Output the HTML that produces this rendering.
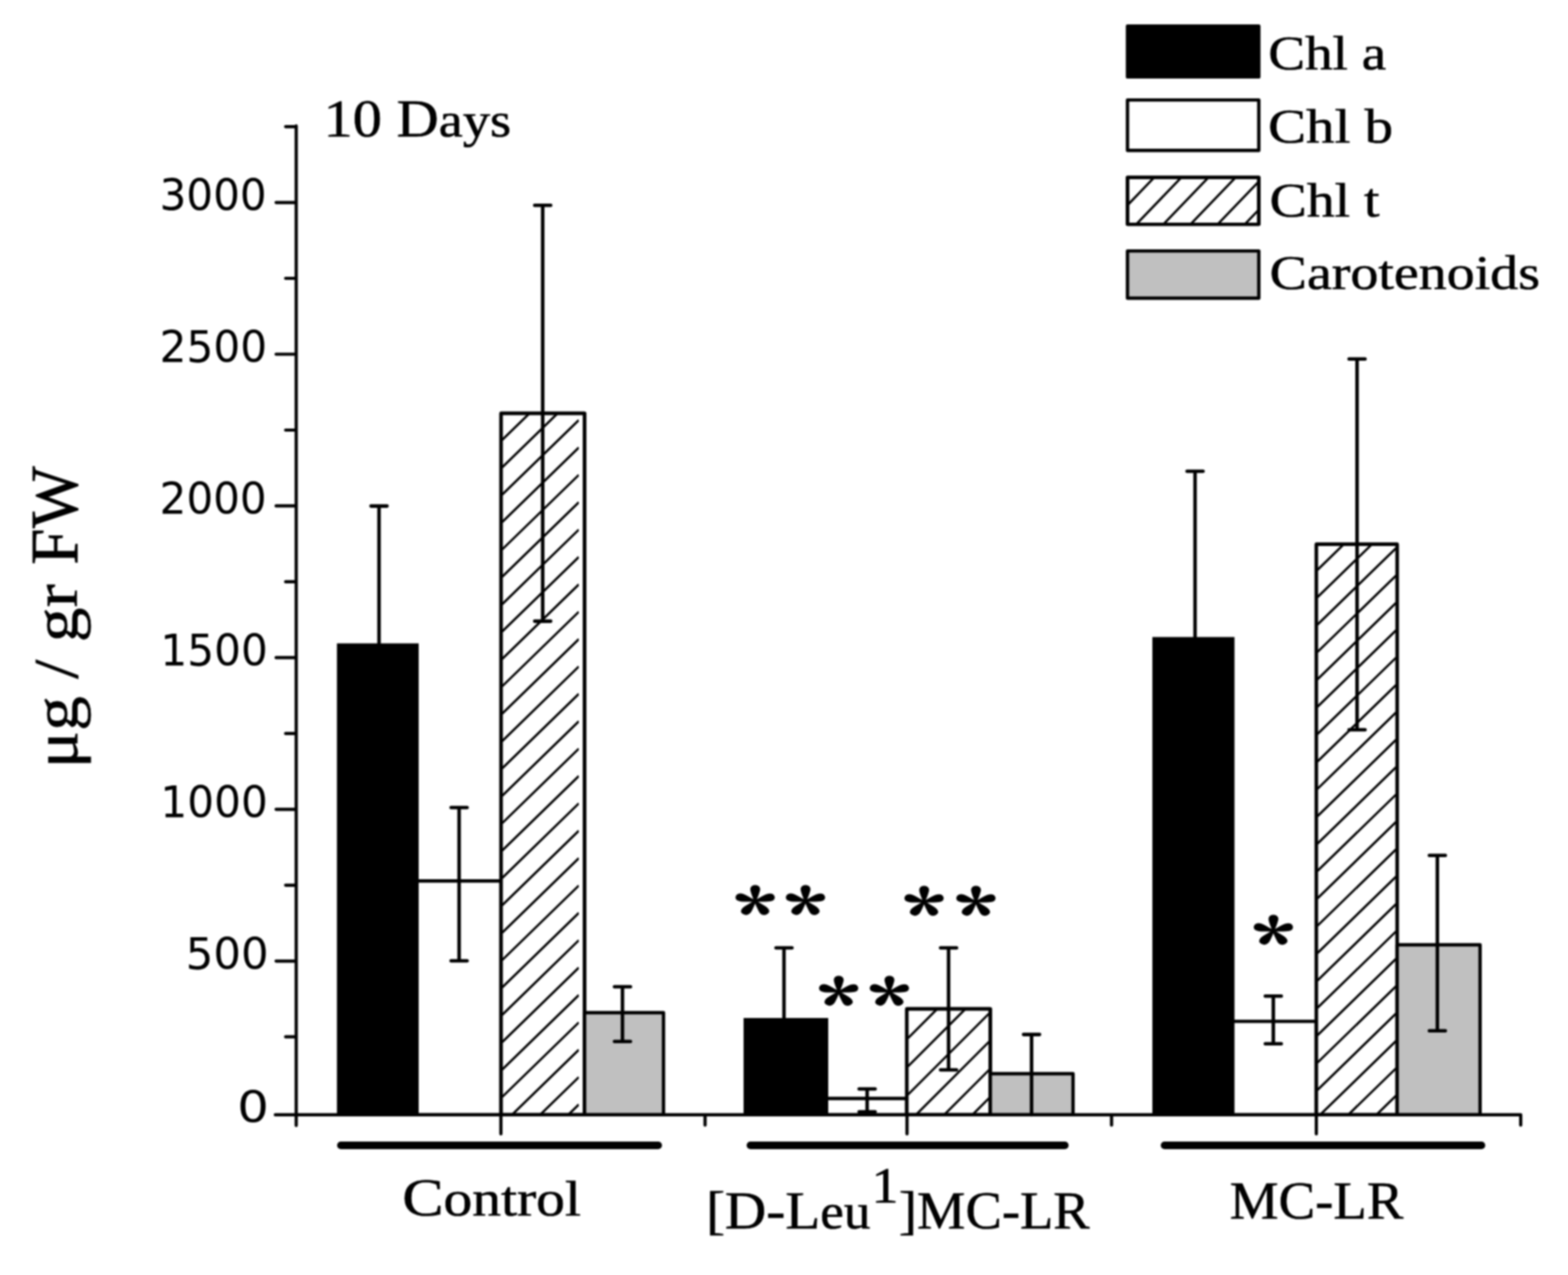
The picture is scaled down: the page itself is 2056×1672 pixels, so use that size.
<!DOCTYPE html>
<html><head><meta charset="utf-8"><title>Chlorophyll content - 10 Days</title>
<style>
html,body{margin:0;padding:0;background:#fff;}
body{width:2056px;height:1672px;overflow:hidden;}
svg{display:block;filter:blur(1.0px);}
.tk{font-family:"DejaVu Sans Condensed","DejaVu Sans",sans-serif;font-stretch:condensed;font-size:57px;fill:#000;}
.sf{font-family:"Liberation Serif",serif;fill:#000;stroke:#000;stroke-width:0.7px;}
.st{font-family:"Noto Serif CJK JP","Noto Serif CJK SC",serif;font-weight:900;fill:#000;stroke:#000;stroke-width:1.4px;stroke-linejoin:round;}
</style></head>
<body>
<svg width="2056" height="1672" viewBox="0 0 2056 1672">
<defs><clipPath id="h1"><rect x="658.5" y="543.5" width="100.5" height="918.4"/></clipPath><clipPath id="h2"><rect x="1190.5" y="1324.5" width="106.5" height="137.4"/></clipPath><clipPath id="h3"><rect x="1727.5" y="715.3" width="103.0" height="746.6"/></clipPath><clipPath id="hleg"><rect x="1478.4" y="232.8" width="172.2" height="61.3"/></clipPath></defs>
<rect width="2056" height="1672" fill="#fff"/>
<rect x="441.8" y="843.7" width="107.2" height="618.2" fill="#000"/>
<rect x="546.8" y="1155.2" width="110.2" height="306.7" fill="#fff" stroke="#000" stroke-width="4.4" stroke-linejoin="round"/>
<rect x="657.0" y="542.0" width="109.5" height="919.9" fill="#fff" stroke="#000" stroke-width="4.4" stroke-linejoin="round"/>
<path clip-path="url(#h1)" d="M658.5 505.1L759.0 407.3M658.5 541.0L759.0 443.2M658.5 576.9L759.0 479.1M658.5 612.8L759.0 515.0M658.5 648.7L759.0 550.9M658.5 684.6L759.0 586.8M658.5 720.5L759.0 622.7M658.5 756.4L759.0 658.6M658.5 792.3L759.0 694.5M658.5 828.2L759.0 730.4M658.5 864.1L759.0 766.3M658.5 900.0L759.0 802.2M658.5 935.9L759.0 838.1M658.5 971.8L759.0 874.0M658.5 1007.7L759.0 909.9M658.5 1043.6L759.0 945.8M658.5 1079.5L759.0 981.7M658.5 1115.4L759.0 1017.6M658.5 1151.3L759.0 1053.5M658.5 1187.2L759.0 1089.4M658.5 1223.1L759.0 1125.3M658.5 1259.0L759.0 1161.2M658.5 1294.9L759.0 1197.1M658.5 1330.8L759.0 1233.0M658.5 1366.7L759.0 1268.9M658.5 1402.6L759.0 1304.8M658.5 1438.5L759.0 1340.7M658.5 1474.4L759.0 1376.6M658.5 1510.3L759.0 1412.5M658.5 1546.2L759.0 1448.4M658.5 1582.1L759.0 1484.3" stroke="#000" stroke-width="3.0" fill="none"/>
<rect x="657.0" y="542.0" width="109.5" height="919.9" fill="none" stroke="#000" stroke-width="4.4" stroke-linejoin="round"/>
<rect x="766.5" y="1328.0" width="103.5" height="133.9" fill="#c0c0c0" stroke="#000" stroke-width="4.4" stroke-linejoin="round"/>
<rect x="975.0" y="1335.0" width="111.0" height="126.9" fill="#000"/>
<rect x="1083.8" y="1440.5" width="105.2" height="21.4" fill="#fff" stroke="#000" stroke-width="4.4" stroke-linejoin="round"/>
<rect x="1189.0" y="1323.0" width="109.5" height="138.9" fill="#fff" stroke="#000" stroke-width="4.4" stroke-linejoin="round"/>
<path clip-path="url(#h2)" d="M1190.5 1287.5L1297.0 1181.0M1190.5 1324.5L1297.0 1218.0M1190.5 1361.5L1297.0 1255.0M1190.5 1398.5L1297.0 1292.0M1190.5 1435.5L1297.0 1329.0M1190.5 1472.5L1297.0 1366.0M1190.5 1509.5L1297.0 1403.0M1190.5 1546.5L1297.0 1440.0M1190.5 1583.5L1297.0 1477.0" stroke="#000" stroke-width="3.0" fill="none"/>
<rect x="1189.0" y="1323.0" width="109.5" height="138.9" fill="none" stroke="#000" stroke-width="4.4" stroke-linejoin="round"/>
<rect x="1298.5" y="1408.0" width="108.5" height="53.9" fill="#c0c0c0" stroke="#000" stroke-width="4.4" stroke-linejoin="round"/>
<rect x="1511.0" y="835.4" width="107.7" height="626.5" fill="#000"/>
<rect x="1616.5" y="1339.4" width="109.5" height="122.5" fill="#fff" stroke="#000" stroke-width="4.4" stroke-linejoin="round"/>
<rect x="1726.0" y="713.8" width="106.0" height="748.1" fill="#fff" stroke="#000" stroke-width="4.4" stroke-linejoin="round"/>
<path clip-path="url(#h3)" d="M1727.5 675.5L1830.5 575.3M1727.5 711.4L1830.5 611.2M1727.5 747.3L1830.5 647.1M1727.5 783.2L1830.5 683.0M1727.5 819.1L1830.5 718.9M1727.5 855.0L1830.5 754.8M1727.5 890.9L1830.5 790.7M1727.5 926.8L1830.5 826.6M1727.5 962.7L1830.5 862.5M1727.5 998.6L1830.5 898.4M1727.5 1034.5L1830.5 934.3M1727.5 1070.4L1830.5 970.2M1727.5 1106.3L1830.5 1006.1M1727.5 1142.2L1830.5 1042.0M1727.5 1178.1L1830.5 1077.9M1727.5 1214.0L1830.5 1113.8M1727.5 1249.9L1830.5 1149.7M1727.5 1285.8L1830.5 1185.6M1727.5 1321.7L1830.5 1221.5M1727.5 1357.6L1830.5 1257.4M1727.5 1393.5L1830.5 1293.3M1727.5 1429.4L1830.5 1329.2M1727.5 1465.3L1830.5 1365.1M1727.5 1501.2L1830.5 1401.0M1727.5 1537.1L1830.5 1436.9M1727.5 1573.0L1830.5 1472.8" stroke="#000" stroke-width="3.0" fill="none"/>
<rect x="1726.0" y="713.8" width="106.0" height="748.1" fill="none" stroke="#000" stroke-width="4.4" stroke-linejoin="round"/>
<rect x="1832.0" y="1239.0" width="108.7" height="222.9" fill="#c0c0c0" stroke="#000" stroke-width="4.4" stroke-linejoin="round"/>
<path d="M497.0 663.6L497.0 843.7M486.5 663.6L507.5 663.6" stroke="#000" stroke-width="4.6" fill="none" stroke-linecap="round"/>
<path d="M602.0 1059.0L602.0 1260.0M591.5 1059.0L612.5 1059.0M591.5 1260.0L612.5 1260.0" stroke="#000" stroke-width="4.6" fill="none" stroke-linecap="round"/>
<path d="M711.6 269.3L711.6 814.6M701.1 269.3L722.1 269.3M701.1 814.6L722.1 814.6" stroke="#000" stroke-width="4.6" fill="none" stroke-linecap="round"/>
<path d="M816.2 1294.0L816.2 1365.7M805.7 1294.0L826.7 1294.0M805.7 1365.7L826.7 1365.7" stroke="#000" stroke-width="4.6" fill="none" stroke-linecap="round"/>
<path d="M1028.0 1243.0L1028.0 1335.0M1017.5 1243.0L1038.5 1243.0" stroke="#000" stroke-width="4.6" fill="none" stroke-linecap="round"/>
<path d="M1137.0 1428.0L1137.0 1458.0M1126.5 1428.0L1147.5 1428.0M1126.5 1458.0L1147.5 1458.0" stroke="#000" stroke-width="4.6" fill="none" stroke-linecap="round"/>
<path d="M1243.8 1243.0L1243.8 1403.0M1233.3 1243.0L1254.3 1243.0M1233.3 1403.0L1254.3 1403.0" stroke="#000" stroke-width="4.6" fill="none" stroke-linecap="round"/>
<path d="M1352.6 1356.6L1352.6 1461.9M1342.1 1356.6L1363.1 1356.6" stroke="#000" stroke-width="4.6" fill="none" stroke-linecap="round"/>
<path d="M1567.0 618.0L1567.0 835.4M1556.5 618.0L1577.5 618.0" stroke="#000" stroke-width="4.6" fill="none" stroke-linecap="round"/>
<path d="M1669.6 1306.3L1669.6 1368.8M1659.1 1306.3L1680.1 1306.3M1659.1 1368.8L1680.1 1368.8" stroke="#000" stroke-width="4.6" fill="none" stroke-linecap="round"/>
<path d="M1779.4 470.8L1779.4 957.0M1768.9 470.8L1789.9 470.8M1768.9 957.0L1789.9 957.0" stroke="#000" stroke-width="4.6" fill="none" stroke-linecap="round"/>
<path d="M1884.7 1121.8L1884.7 1351.7M1874.2 1121.8L1895.2 1121.8M1874.2 1351.7L1895.2 1351.7" stroke="#000" stroke-width="4.6" fill="none" stroke-linecap="round"/>
<path d="M388.4 165L388.4 1476M361 1461.9L1994 1461.9M362 1260.3L388.4 1260.3M362 1061.3L388.4 1061.3M362 862.4L388.4 862.4M362 663.4L388.4 663.4M362 464.5L388.4 464.5M362 265.6L388.4 265.6M374.5 1359.7L388.4 1359.7M374.5 1160.8L388.4 1160.8M374.5 961.9L388.4 961.9M374.5 762.9L388.4 762.9M374.5 564.0L388.4 564.0M374.5 365.0L388.4 365.0M374.5 166.1L388.4 166.1M656.8 1461.9L656.8 1487M1189.3 1461.9L1189.3 1487M1726 1461.9L1726 1487M924.5 1461.9L924.5 1475.5M1457.5 1461.9L1457.5 1475.5M1994 1461.9L1994 1475.5" stroke="#000" stroke-width="4.2" fill="none" stroke-linecap="round" stroke-linejoin="round"/>
<path d="M447 1502L863 1502" stroke="#000" stroke-width="10" stroke-linecap="round"/>
<path d="M984 1502L1396.2 1502" stroke="#000" stroke-width="10" stroke-linecap="round"/>
<path d="M1527 1502L1942.5 1502" stroke="#000" stroke-width="10" stroke-linecap="round"/>
<text transform="translate(209.19 275.9) scale(1.0772 1)" class="tk">3000</text>
<text transform="translate(209.17 474.8) scale(1.0813 1)" class="tk">2500</text>
<text transform="translate(209.30 673.7) scale(1.0756 1)" class="tk">2000</text>
<text transform="translate(210.32 872.7) scale(1.0793 1)" class="tk">1500</text>
<text transform="translate(210.32 1071.6) scale(1.0793 1)" class="tk">1000</text>
<text transform="translate(243.45 1270.6) scale(1.1122 1)" class="tk">500</text>
<text transform="translate(310.97 1472.2) scale(1.2769 1)" class="tk">0</text>
<rect x="1478.4" y="34.2" width="172.2" height="66.7" fill="#000" stroke="#000" stroke-width="4.4" stroke-linejoin="round"/>
<rect x="1478.4" y="131.1" width="172.2" height="66.1" fill="#fff" stroke="#000" stroke-width="4.4" stroke-linejoin="round"/>
<rect x="1478.4" y="232.8" width="172.2" height="61.3" fill="#fff" stroke="#000" stroke-width="4.4" stroke-linejoin="round"/>
<path clip-path="url(#hleg)" d="M1478.4 195.1L1650.6 16.0M1478.4 232.1L1650.6 53.0M1478.4 269.1L1650.6 90.0M1478.4 306.1L1650.6 127.0M1478.4 343.1L1650.6 164.0M1478.4 380.1L1650.6 201.0M1478.4 417.1L1650.6 238.0M1478.4 454.1L1650.6 275.0M1478.4 491.1L1650.6 312.0" stroke="#000" stroke-width="3.0" fill="none"/>
<rect x="1478.4" y="232.8" width="172.2" height="61.3" fill="none" stroke="#000" stroke-width="4.4" stroke-linejoin="round"/>
<rect x="1478.4" y="329.1" width="172.2" height="61.9" fill="#c0c0c0" stroke="#000" stroke-width="4.4" stroke-linejoin="round"/>
<text transform="translate(424.34 178.6) scale(1.1099 1)" class="sf" font-size="69">10 D<tspan font-size="64">ays</tspan></text>
<text transform="translate(527.38 1593.5) scale(1.1603 1)" class="sf" font-size="70">C<tspan font-size="65">ontrol</tspan></text>
<text transform="translate(925.64 1610.6) scale(1.0714 1)" class="sf" font-size="70">[D-L<tspan font-size="65">eu</tspan></text>
<text transform="translate(1142.75 1576.5) scale(1.0417 1)" class="sf" font-size="68">1</text>
<text transform="translate(1178.56 1610.6) scale(1.0214 1)" class="sf" font-size="70">]MC-LR</text>
<text transform="translate(1612.55 1598.3) scale(1.0268 1)" class="sf" font-size="70">MC-LR</text>
<text transform="translate(1662.92 91) scale(1.1391 1)" class="sf" font-size="63.5">Chl a</text>
<text transform="translate(1662.85 187.1) scale(1.1748 1)" class="sf" font-size="63.5">Chl b</text>
<text transform="translate(1664.70 283.8) scale(1.1496 1)" class="sf" font-size="63.5">Chl t</text>
<text transform="translate(1664.69 378.9) scale(1.1558 1)" class="sf" font-size="63.5">Carotenoids</text>
<text transform="translate(100.8 1000.8) rotate(-90) translate(-6.59 0) scale(1.0977 1)" class="sf" font-size="83">μg / gr</text>
<text transform="translate(100.8 738.7) rotate(-90) translate(-1.96 0) scale(0.9785 1)" class="sf" font-size="88">FW</text>
<text transform="translate(963.41 1233.13) scale(1.0915 0.8587)" class="st" font-size="100">*</text>
<text transform="translate(1029.51 1233.13) scale(1.0915 0.8587)" class="st" font-size="100">*</text>
<text transform="translate(1072.91 1351.93) scale(1.0915 0.8587)" class="st" font-size="100">*</text>
<text transform="translate(1139.41 1351.93) scale(1.0915 0.8587)" class="st" font-size="100">*</text>
<text transform="translate(1184.91 1234.43) scale(1.0915 0.8587)" class="st" font-size="100">*</text>
<text transform="translate(1252.91 1234.43) scale(1.0915 0.8587)" class="st" font-size="100">*</text>
<text transform="translate(1642.91 1272.13) scale(1.0915 0.8587)" class="st" font-size="100">*</text>
</svg>
</body></html>
